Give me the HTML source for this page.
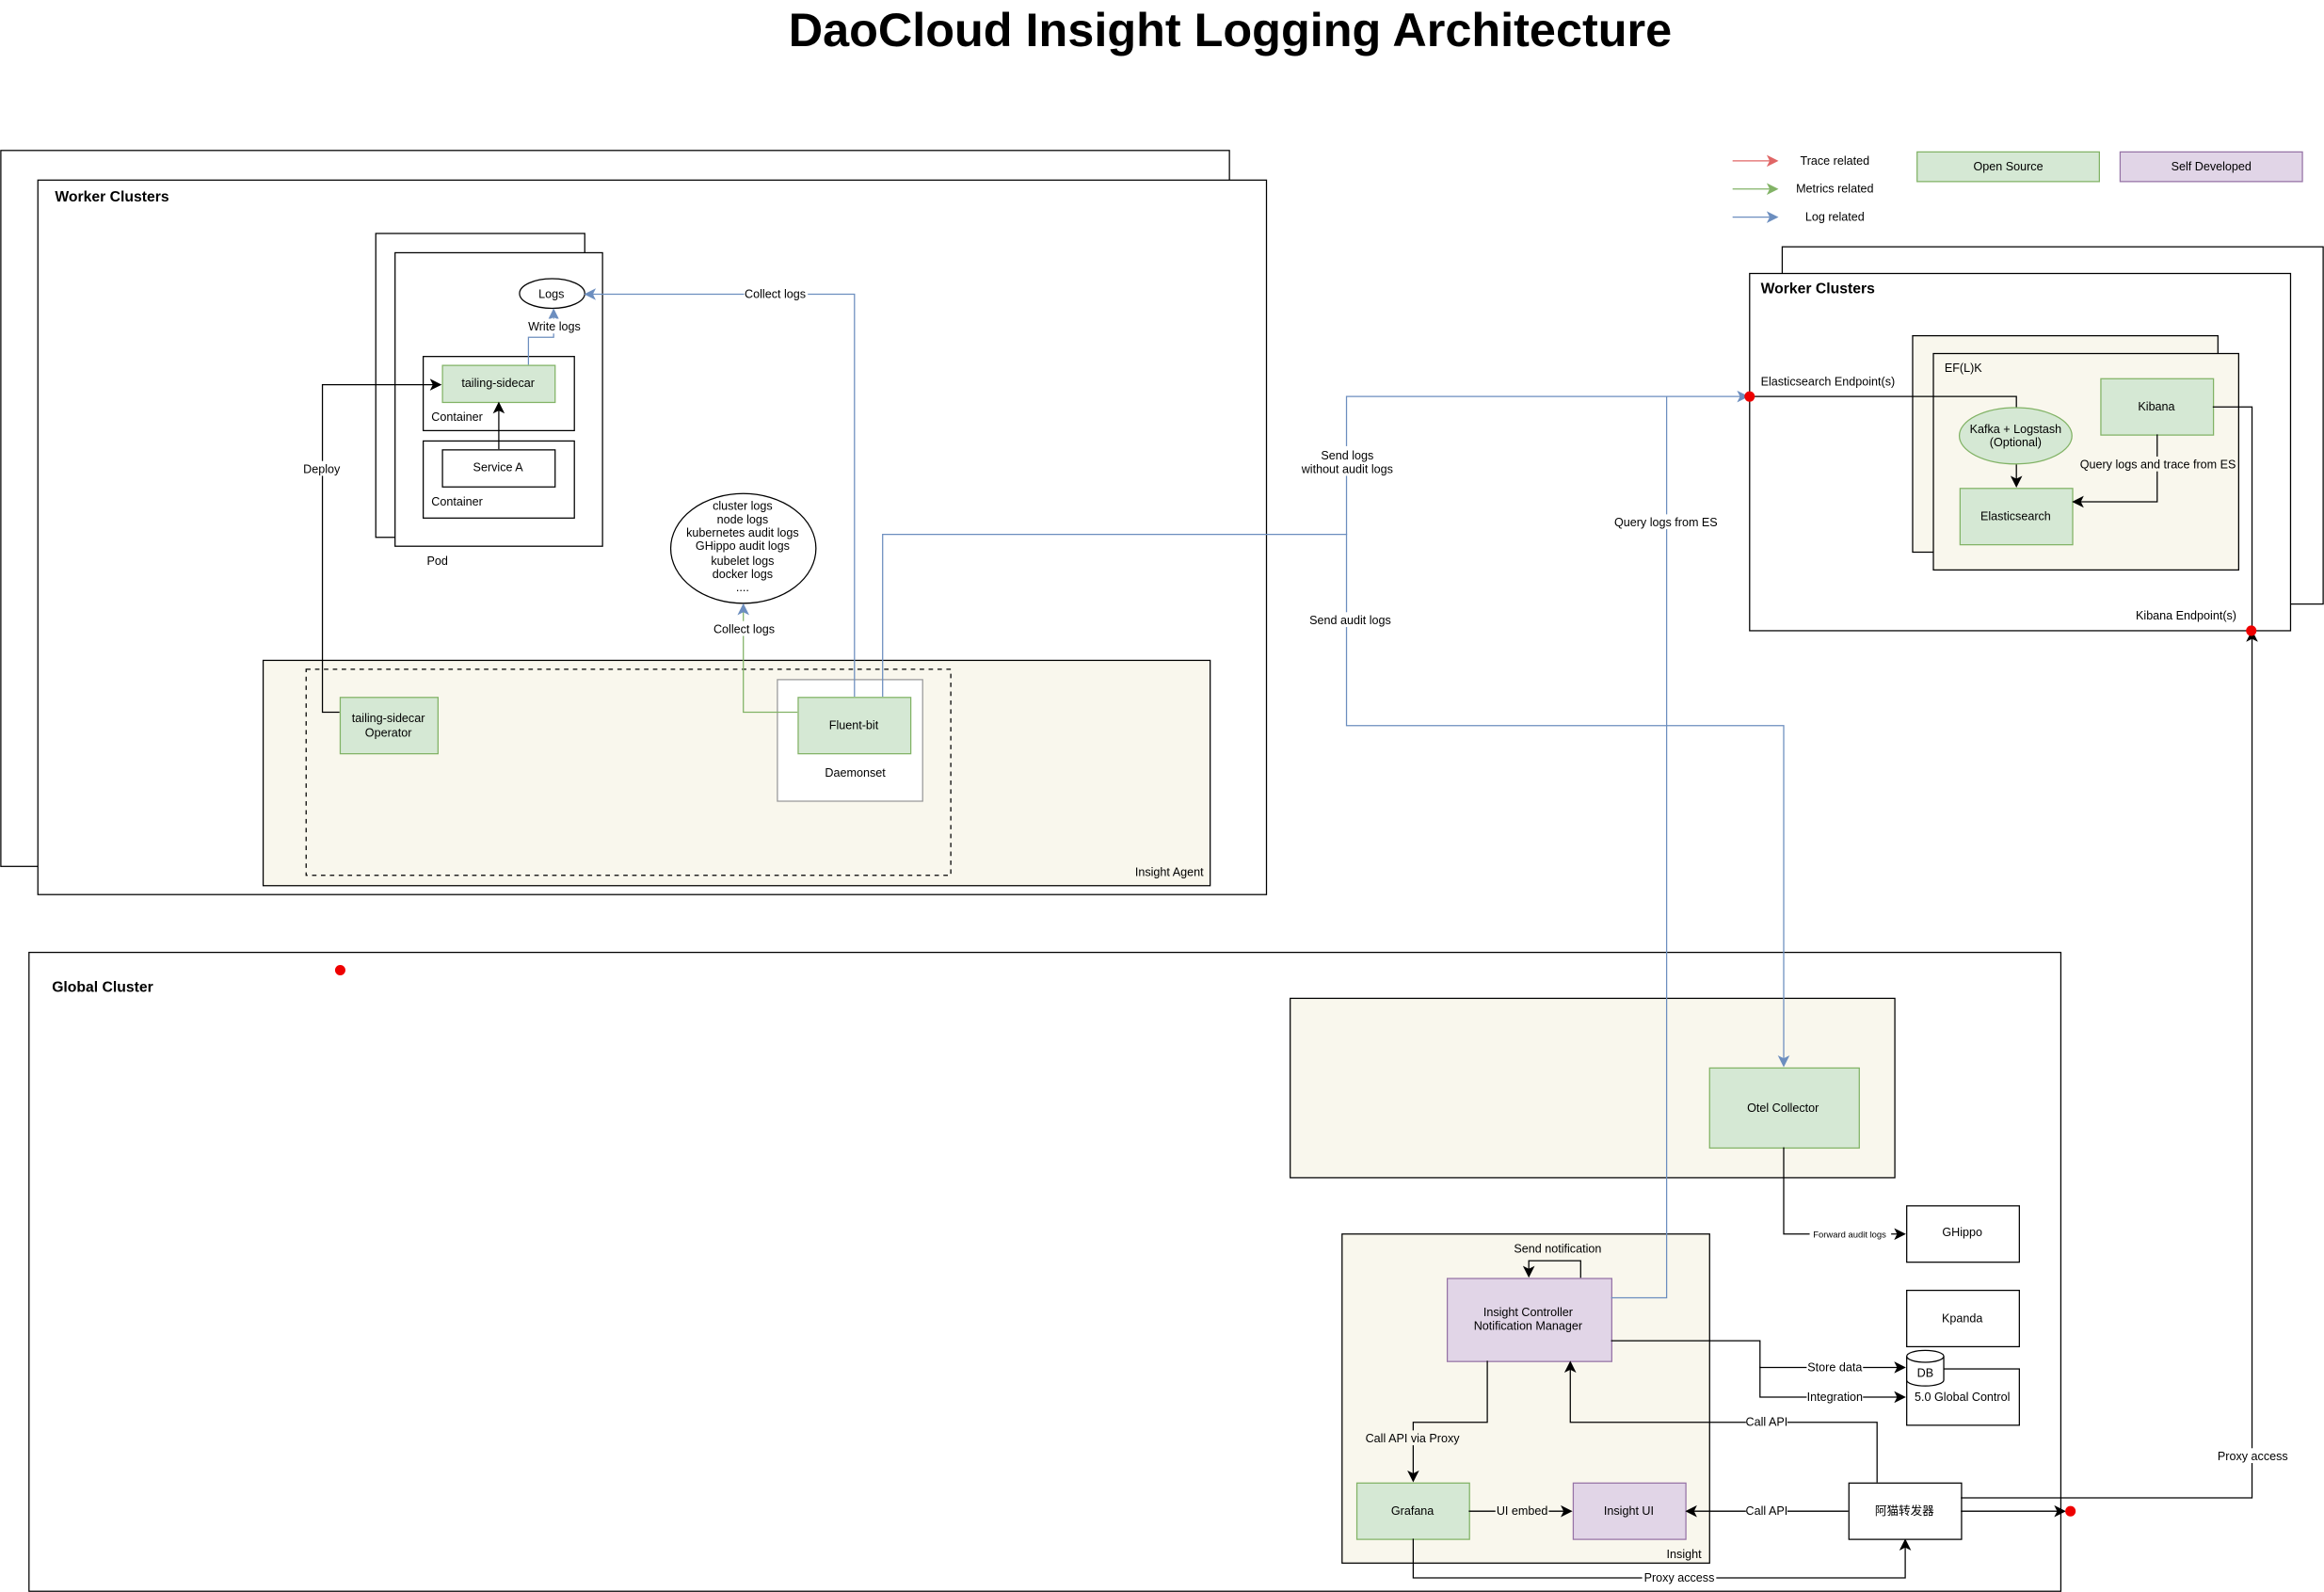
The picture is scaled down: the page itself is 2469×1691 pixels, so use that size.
<!DOCTYPE html>
<html><head><meta charset="utf-8"><style>
html,body{margin:0;padding:0;background:#fff}
svg{display:block}
text{font-family:"Liberation Sans","Noto Sans CJK SC",sans-serif;font-size:8px;fill:#000}
.b{font-weight:bold;font-size:10px}
path,rect,ellipse{stroke-width:0.8}
</style></head><body>
<svg width="2469" height="1691" viewBox="0 0 1568 1074" xmlns="http://www.w3.org/2000/svg">
<defs>
<marker id="ak" markerWidth="8" markerHeight="8" refX="7" refY="4" orient="auto" markerUnits="userSpaceOnUse"><path d="M0,0 L8,4 L0,8 L2,4z" fill="#000" stroke="none"/></marker>
<marker id="ab" markerWidth="8" markerHeight="8" refX="7" refY="4" orient="auto" markerUnits="userSpaceOnUse"><path d="M0,0 L8,4 L0,8 L2,4z" fill="#6c8ebf" stroke="none"/></marker>
<marker id="ar" markerWidth="8" markerHeight="8" refX="7" refY="4" orient="auto" markerUnits="userSpaceOnUse"><path d="M0,0 L8,4 L0,8 L2,4z" fill="#e06666" stroke="none"/></marker>
<marker id="ag" markerWidth="8" markerHeight="8" refX="7" refY="4" orient="auto" markerUnits="userSpaceOnUse"><path d="M0,0 L8,4 L0,8 L2,4z" fill="#82b366" stroke="none"/></marker>
</defs>
<text x="830" y="31" text-anchor="middle" style="font-size:32px;font-weight:bold">DaoCloud Insight Logging Architecture</text>

<!-- left worker clusters -->
<rect x="0.5" y="101.5" width="829" height="483" fill="#fff" stroke="#000"/>
<rect x="25.5" y="121.5" width="829" height="482" fill="#fff" stroke="#000"/>
<text x="37" y="136" class="b">Worker Clusters</text>
<rect x="253.5" y="157.5" width="141" height="205" fill="#fff" stroke="#000"/>
<rect x="266.5" y="170.5" width="140" height="198" fill="#fff" stroke="#000"/>
<text x="288" y="381">Pod</text>
<ellipse cx="372.5" cy="198" rx="22" ry="10" fill="#fff" stroke="#000"/>
<text x="372" y="201" text-anchor="middle">Logs</text>
<rect x="285.5" y="240.5" width="102" height="50" fill="#fff" stroke="#000"/>
<rect x="298.5" y="246.5" width="76" height="25" fill="#d5e8d4" stroke="#82b366"/>
<text x="336" y="261" text-anchor="middle">tailing-sidecar</text>
<text x="291" y="284">Container</text>
<rect x="285.5" y="297.5" width="102" height="52" fill="#fff" stroke="#000"/>
<rect x="298.5" y="303.5" width="76" height="25" fill="#fff" stroke="#000"/>
<text x="336" y="318" text-anchor="middle">Service A</text>
<text x="291" y="341">Container</text>
<path d="M336.5 303 V272" stroke="#000" fill="none" marker-end="url(#ak)"/>
<path d="M356.5 246 V227.5 H373.5 V209" stroke="#6c8ebf" fill="none" marker-end="url(#ab)"/>
<rect x="355" y="215" width="38" height="10" fill="#fff"/>
<text x="374" y="223" text-anchor="middle">Write logs</text>

<!-- insight agent -->
<rect x="177.5" y="445.5" width="639" height="152" fill="#f9f7ed" stroke="#000" stroke-width="0.7"/>
<text x="812" y="591" text-anchor="end">Insight Agent</text>
<rect x="206.5" y="451.5" width="435" height="139" fill="none" stroke="#000" stroke-dasharray="3,3"/>
<rect x="229.5" y="470.5" width="66" height="38" fill="#d5e8d4" stroke="#82b366"/>
<text x="262" y="487" text-anchor="middle">tailing-sidecar</text>
<text x="262" y="497" text-anchor="middle">Operator</text>
<rect x="524.5" y="458.5" width="98" height="82" fill="#fff" stroke="#999"/>
<rect x="538.5" y="470.5" width="76" height="38" fill="#d5e8d4" stroke="#82b366"/>
<text x="576" y="492" text-anchor="middle">Fluent-bit</text>
<text x="577" y="524" text-anchor="middle">Daemonset</text>
<path d="M229 480.5 H217.5 V259.5 H297" stroke="#000" fill="none" marker-end="url(#ak)"/>
<rect x="203" y="311" width="30" height="10" fill="#fff"/>
<text x="217" y="319" text-anchor="middle">Deploy</text>

<ellipse cx="501.5" cy="370" rx="49" ry="37" fill="#fff" stroke="#000"/>
<text x="501" y="344" text-anchor="middle">cluster logs</text>
<text x="501" y="353" text-anchor="middle">node logs</text>
<text x="501" y="362" text-anchor="middle">kubernetes audit logs</text>
<text x="501" y="371" text-anchor="middle">GHippo audit logs</text>
<text x="501" y="381" text-anchor="middle">kubelet logs</text>
<text x="501" y="390" text-anchor="middle">docker logs</text>
<text x="501" y="399" text-anchor="middle">....</text>
<path d="M538 480.5 H501.5 V408" stroke="#82b366" fill="none" marker-end="url(#ab)"/>
<rect x="480" y="419" width="44" height="10" fill="#fff"/>
<text x="502" y="427" text-anchor="middle">Collect logs</text>
<path d="M576.5 470 V198.5 H395" stroke="#6c8ebf" fill="none" marker-end="url(#ab)"/>
<rect x="502" y="193" width="43" height="10" fill="#fff"/>
<text x="523" y="201" text-anchor="middle">Collect logs</text>

<!-- legend -->
<path d="M1169 108.5 H1199" stroke="#e06666" fill="none" marker-end="url(#ar)"/>
<text x="1238" y="111" text-anchor="middle">Trace related</text>
<path d="M1169 127.5 H1199" stroke="#82b366" fill="none" marker-end="url(#ag)"/>
<text x="1238" y="130" text-anchor="middle">Metrics related</text>
<path d="M1169 146.5 H1199" stroke="#6c8ebf" fill="none" marker-end="url(#ab)"/>
<text x="1238" y="149" text-anchor="middle">Log related</text>
<rect x="1293.5" y="102.5" width="123" height="20" fill="#d5e8d4" stroke="#82b366"/>
<text x="1355" y="115" text-anchor="middle">Open Source</text>
<rect x="1430.5" y="102.5" width="123" height="20" fill="#e1d5e7" stroke="#9673a6"/>
<text x="1492" y="115" text-anchor="middle">Self Developed</text>

<!-- right worker clusters -->
<rect x="1202.5" y="166.5" width="365" height="241" fill="#fff" stroke="#000"/>
<rect x="1180.5" y="184.5" width="365" height="241" fill="#fff" stroke="#000"/>
<text x="1188" y="198" class="b">Worker Clusters</text>
<rect x="1290.5" y="226.5" width="206" height="146" fill="#f9f7ed" stroke="#000" stroke-width="0.7"/>
<rect x="1304.5" y="238.5" width="206" height="146" fill="#f9f7ed" stroke="#000" stroke-width="0.7"/>
<text x="1312" y="251">EF(L)K</text>
<text x="1188" y="260">Elasticsearch Endpoint(s)</text>
<path d="M1180 267.5 H1360.5 V328" stroke="#000" fill="none" marker-end="url(#ak)"/>
<ellipse cx="1360" cy="294" rx="38" ry="19" fill="#d5e8d4" stroke="#82b366"/>
<text x="1360" y="292" text-anchor="middle">Kafka + Logstash</text>
<text x="1360" y="301" text-anchor="middle">(Optional)</text>
<rect x="1322.5" y="329.5" width="76" height="38" fill="#d5e8d4" stroke="#82b366"/>
<text x="1360" y="351" text-anchor="middle">Elasticsearch</text>
<rect x="1417.5" y="255.5" width="76" height="38" fill="#d5e8d4" stroke="#82b366"/>
<text x="1455" y="277" text-anchor="middle">Kibana</text>
<path d="M1455.5 293 V338.5 H1399" stroke="#000" fill="none" marker-end="url(#ak)"/>
<rect x="1405" y="308" width="102" height="10" fill="#f9f7ed"/>
<text x="1456" y="316" text-anchor="middle">Query logs and trace from ES</text>
<path d="M1493 274.5 H1519.5 V425" stroke="#000" fill="none"/>
<text x="1509" y="418" text-anchor="end">Kibana Endpoint(s)</text>

<!-- global cluster -->
<rect x="19.5" y="642.5" width="1371" height="431" fill="#fff" stroke="#000"/>
<text x="35" y="669" class="b">Global Cluster</text>
<circle cx="229.5" cy="654.5" r="3.5" fill="#e00"/>
<rect x="870.5" y="673.5" width="408" height="121" fill="#f9f7ed" stroke="#000" stroke-width="0.7"/>
<rect x="1153.5" y="720.5" width="101" height="54" fill="#d5e8d4" stroke="#82b366"/>
<text x="1203" y="750" text-anchor="middle">Otel Collector</text>
<path d="M1203.5 774 V832.5 H1285" stroke="#000" fill="none" marker-end="url(#ak)"/>
<rect x="1221" y="828" width="55" height="8" fill="#fff"/>
<text x="1248" y="835" text-anchor="middle" style="font-size:6px">Forward audit logs</text>
<rect x="1286.5" y="813.5" width="76" height="38" fill="#fff" stroke="#000"/>
<text x="1324" y="834" text-anchor="middle">GHippo</text>
<rect x="1286.5" y="870.5" width="76" height="38" fill="#fff" stroke="#000"/>
<text x="1324" y="892" text-anchor="middle">Kpanda</text>
<rect x="1286.5" y="923.5" width="76" height="38" fill="#fff" stroke="#000"/>
<text x="1324" y="945" text-anchor="middle">5.0 Global Control</text>
<path d="M1286.5 915 V931 A12.5 4 0 0 0 1311.5 931 V915" fill="#fff" stroke="#000"/>
<ellipse cx="1299" cy="915" rx="12.5" ry="4" fill="#fff" stroke="#000"/>
<text x="1299" y="929" text-anchor="middle">DB</text>

<!-- insight -->
<rect x="905.5" y="832.5" width="248" height="222" fill="#f9f7ed" stroke="#000" stroke-width="0.7"/>
<text x="1148" y="1051" text-anchor="end">Insight</text>
<rect x="976.5" y="862.5" width="111" height="56" fill="#e1d5e7" stroke="#9673a6"/>
<text x="1031" y="888" text-anchor="middle">Insight Controller</text>
<text x="1031" y="897" text-anchor="middle">Notification Manager</text>
<path d="M1066.5 862 V850.5 H1031.5 V861" stroke="#000" fill="none" marker-end="url(#ak)"/>
<text x="1051" y="845" text-anchor="middle">Send notification</text>
<path d="M1087 904.5 H1187.5 V922.5 H1285" stroke="#000" fill="none" marker-end="url(#ak)"/>
<path d="M1187.5 922 V942.5 H1285" stroke="#000" fill="none" marker-end="url(#ak)"/>
<rect x="1219" y="917" width="38" height="10" fill="#fff"/>
<text x="1238" y="925" text-anchor="middle">Store data</text>
<rect x="1219" y="937" width="38" height="10" fill="#fff"/>
<text x="1238" y="945" text-anchor="middle">Integration</text>
<path d="M1003.5 918 V959.5 H953.5 V999" stroke="#000" fill="none" marker-end="url(#ak)"/>
<rect x="920" y="965" width="66" height="10" fill="#f9f7ed"/>
<text x="953" y="973" text-anchor="middle">Call API via Proxy</text>
<rect x="915.5" y="1000.5" width="76" height="38" fill="#d5e8d4" stroke="#82b366"/>
<text x="953" y="1022" text-anchor="middle">Grafana</text>
<rect x="1061.5" y="1000.5" width="76" height="38" fill="#e1d5e7" stroke="#9673a6"/>
<text x="1099" y="1022" text-anchor="middle">Insight UI</text>
<path d="M991 1019.5 H1060" stroke="#000" fill="none" marker-end="url(#ak)"/>
<rect x="1009" y="1014" width="36" height="10" fill="#f9f7ed"/>
<text x="1027" y="1022" text-anchor="middle">UI embed</text>
<rect x="1247.5" y="1000.5" width="76" height="38" fill="#fff" stroke="#000"/>
<text x="1285" y="1022" text-anchor="middle">阿猫转发器</text>
<path d="M1247 1019.5 H1138" stroke="#000" fill="none" marker-end="url(#ak)"/>
<rect x="1178" y="1014" width="28" height="10" fill="#fff"/>
<text x="1192" y="1022" text-anchor="middle">Call API</text>
<path d="M1266.5 1000 V959.5 H1059.5 V919" stroke="#000" fill="none" marker-end="url(#ak)"/>
<rect x="1178" y="954" width="28" height="10" fill="#fff"/>
<text x="1192" y="962" text-anchor="middle">Call API</text>
<path d="M953.5 1038 V1064.5 H1285.5 V1039" stroke="#000" fill="none" marker-end="url(#ak)"/>
<rect x="1108" y="1059" width="50" height="10" fill="#fff"/>
<text x="1133" y="1067" text-anchor="middle">Proxy access</text>
<path d="M1323 1019.5 H1393" stroke="#000" fill="none" marker-end="url(#ak)"/>
<circle cx="1397" cy="1019.5" r="3.5" fill="#e00"/>
<path d="M1323 1010.5 H1519.5 V426" stroke="#000" fill="none" marker-end="url(#ak)"/>
<rect x="1495" y="977" width="50" height="10" fill="#fff"/>
<text x="1520" y="985" text-anchor="middle">Proxy access</text>

<!-- blue log lines (on top) -->
<path d="M595.5 470 V360.5 H908.5 V267.5 H1179" stroke="#6c8ebf" fill="none" marker-end="url(#ab)"/>
<path d="M908.5 360 V489.5 H1203.5 V719" stroke="#6c8ebf" fill="none" marker-end="url(#ab)"/>
<path d="M1087 875.5 H1124.5 V267.5" stroke="#6c8ebf" fill="none"/>
<rect x="875" y="301" width="68" height="20" fill="#fff"/>
<text x="909" y="310" text-anchor="middle">Send logs</text>
<text x="909" y="319" text-anchor="middle">without audit logs</text>
<rect x="882" y="413" width="58" height="10" fill="#fff"/>
<text x="911" y="421" text-anchor="middle">Send audit logs</text>
<rect x="1090" y="347" width="68" height="10" fill="#fff"/>
<text x="1124" y="355" text-anchor="middle">Query logs from ES</text>
<circle cx="1180.5" cy="267.5" r="3.5" fill="#e00"/>
<circle cx="1519" cy="425.5" r="3.5" fill="#e00"/>
</svg>
</body></html>
